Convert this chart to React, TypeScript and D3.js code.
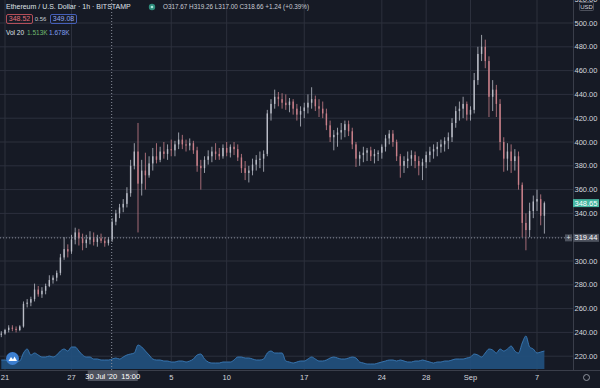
import React from "react";
import * as d3 from "d3";

// ---------- data (8h buckets, first bucket opens 20 Jul 2020 16:00 UTC) ----------
const firstOpen = 238;
const highs = [
  241,
  243, 246, 246, 245, 246, 266, 268, 270, 281, 279, 278, 281, 288, 288, 292,
  306, 320, 314, 322, 328, 327, 323, 322, 325, 324, 322, 323, 320, 320, 336,
  343, 348, 352, 362, 385, 399, 416, 385, 391, 388, 395, 399, 396, 400, 398,
  402, 401, 408, 406, 402, 403, 401, 396, 385, 388, 393, 396, 399, 395, 398,
  400, 398, 400, 398, 390, 384, 380, 386, 389, 392, 393, 427, 436, 444, 442,
  441, 440, 437, 436, 432, 430, 433, 440, 446, 439, 436, 434, 428, 418, 410,
  412, 416, 418, 418, 412, 400, 392, 396, 395, 396, 394, 393, 398, 406, 410,
  410, 402, 390, 388, 392, 393, 392, 388, 386, 392, 396, 398, 400, 402, 404,
  408, 420, 430, 434, 438, 434, 430, 458, 480, 490, 486, 472, 452, 448, 436,
  404, 399, 398, 394, 392, 366, 340, 349, 355, 360, 356, 350,
];
const lows = [
  236,
  238, 240, 241, 240, 241, 244, 261, 262, 266, 270, 269, 272, 278, 281, 283,
  288, 301, 303, 306, 314, 313, 309, 311, 314, 313, 312, 315, 312, 313, 316,
  330, 336, 341, 345, 354, 377, 324, 355, 360, 370, 376, 382, 383, 386, 385,
  388, 388, 394, 394, 392, 393, 390, 375, 360, 374, 381, 383, 385, 385, 386,
  388, 387, 389, 384, 374, 368, 366, 372, 376, 378, 375, 388, 418, 428, 430,
  428, 427, 425, 423, 418, 413, 420, 424, 428, 426, 421, 420, 410, 400, 393,
  396, 402, 404, 405, 394, 379, 380, 383, 384, 384, 382, 384, 386, 392, 398,
  396, 384, 370, 374, 378, 380, 378, 372, 368, 378, 383, 386, 388, 391, 392,
  394, 400, 412, 418, 420, 418, 418, 424, 448, 468, 462, 421, 426, 421, 393,
  375, 376, 374, 376, 360, 320, 309, 320, 336, 342, 330, 323,
];
const closes = [
  239,
  242, 244, 243, 242, 245, 264, 265, 268, 276, 272, 275, 279, 284, 286, 290,
  303, 310, 308, 318, 324, 319, 315, 318, 320, 316, 319, 317, 315, 318, 333,
  340, 345, 348, 357, 380, 392, 365, 376, 372, 382, 388, 385, 392, 390, 394,
  393, 398, 402, 398, 397, 399, 393, 380, 378, 385, 388, 392, 390, 388, 395,
  391, 396, 394, 387, 378, 374, 376, 381, 385, 386, 390, 424, 432, 438, 436,
  433, 431, 434, 428, 423, 426, 429, 433, 436, 430, 428, 424, 414, 404, 406,
  408, 410, 415, 409, 398, 386, 389, 391, 393, 388, 390, 391, 396, 403, 407,
  400, 388, 380, 384, 386, 389, 384, 380, 383, 389, 392, 394, 396, 398, 401,
  404, 416, 426, 428, 432, 423, 427, 452, 474, 480, 468, 438, 444, 432, 400,
  386, 392, 384, 388, 364, 332, 326, 342, 350, 352, 338, 348.65,
];
const volumes = [
  4.5,
  4.5, 4, 3.5, 3.5, 4, 8, 10, 7, 8, 7, 6, 6, 6.5, 6, 7,
  9, 10, 9, 11, 11, 9, 7, 6, 6, 5, 5, 4.5, 4.5, 4.5, 5,
  5.5, 5, 6, 7, 7.5, 8, 12, 11, 9, 7, 5, 4.5, 4.5, 4, 4,
  3.5, 3.5, 4, 4, 3.5, 4, 5, 7, 7.5, 5, 3.5, 3, 3, 3, 3.5,
  3.5, 3.5, 4.5, 6, 6, 5.5, 5.5, 5, 4.5, 4.5, 5, 8, 9, 8, 8,
  8, 4, 3.5, 3, 3.5, 4, 4, 5, 6, 5, 4, 4, 4.5, 5.5, 6,
  5.5, 5, 5, 5.5, 6, 5.5, 3.5, 3, 2.5, 2.5, 2.5, 3, 3.5, 4, 4.5,
  4.5, 4, 4.5, 4, 3.5, 3.5, 4, 4, 4.5, 4, 3.5, 3, 3.5, 3.5, 4,
  4, 4.5, 5, 5, 5, 5.5, 6, 7.5, 7, 6, 8, 10, 9.5, 8, 10,
  9, 10, 11.5, 9, 8, 13, 16.5, 11, 10, 8, 8.5, 9,
];

const priceTicks = [220, 240, 260, 280, 300, 320, 340, 360, 380, 400, 420, 440, 460, 480, 500, 520];
const timeTickDates = [
  Date.UTC(2020, 6, 21), Date.UTC(2020, 6, 27), Date.UTC(2020, 7, 5), Date.UTC(2020, 7, 10),
  Date.UTC(2020, 7, 17), Date.UTC(2020, 7, 24), Date.UTC(2020, 7, 28), Date.UTC(2020, 8, 1),
  Date.UTC(2020, 8, 7),
];
const timeTickLabels = ["21", "27", "5", "10", "17", "24", "28", "Sep", "7"];

const legendTitle = "Ethereum / U.S. Dollar · 1h · BITSTAMP";
const legendOHLC = "O317.67 H319.26 L317.00 C318.66 +1.24 (+0.39%)";
const bidText = "348.52";
const spreadText = "0.56";
const askText = "349.08";
const volName = "Vol 20";
const volValue = "1.513K";
const volMaValue = "1.678K";
const lastPrice = 348.65;
const crossPrice = 319.44;
const crossTime = Date.UTC(2020, 6, 30, 15);
const crossTimeText = "30 Jul '20  15:00";

// ---------- layout ----------
const W = 600;
const H = 388;
const plotRight = 573;
const plotBottom = 370;
const FONT = "'Liberation Sans', Arial, sans-serif";
const BG = "#161a25";
const GRID = "#2c303d";
const TEXT = "#d3d6de";
const UP = "#b9bcc6";
const DOWN = "#c9808a";

const startTime = Date.UTC(2020, 6, 20, 16);
const STEP = 8 * 3600 * 1000;

export default function App() {
  const x = d3.scaleUtc().domain([new Date(Date.UTC(2020, 6, 21)), new Date(Date.UTC(2020, 8, 7))]).range([5, 537]);
  const y = d3.scaleLinear().domain([220, 500]).range([356.2, 23]);
  const yv = d3.scaleLinear().domain([0, 20]).range([369, 329]);

  const candles = closes.map((c, i) => ({
    t: new Date(startTime + i * STEP),
    o: i === 0 ? firstOpen : closes[i - 1],
    h: highs[i],
    l: lows[i],
    c,
    v: volumes[i],
  }));

  const area = d3
    .area<any>()
    .x((d) => x(d.t))
    .y0(yv(0))
    .y1((d) => yv(d.v))
    .curve(d3.curveMonotoneX);
  const topLine = d3
    .line<any>()
    .x((d) => x(d.t))
    .y((d) => yv(d.v))
    .curve(d3.curveMonotoneX);

  const cx = x(new Date(crossTime));
  const cy = y(crossPrice);
  const ly = y(lastPrice);

  return (
    <svg
      width={W}
      height={H}
      style={{ position: "absolute", left: 0, top: 0, display: "block", background: BG }}
      fontFamily={FONT}
    >
      <rect x={0} y={0} width={W} height={H} fill={BG} />
      <defs>
        <clipPath id="plot">
          <rect x={0} y={0} width={plotRight} height={plotBottom} />
        </clipPath>
      </defs>

      {/* grid */}
      {priceTicks.map((p) => (
        <line key={"h" + p} x1={0} x2={plotRight} y1={y(p)} y2={y(p)} stroke={GRID} strokeWidth={1} />
      ))}
      {timeTickDates.map((d, i) => (
        <line key={"v" + i} x1={x(new Date(d))} x2={x(new Date(d))} y1={0} y2={plotBottom} stroke={GRID} strokeWidth={1} />
      ))}

      {/* volume */}
      <g clipPath="url(#plot)">
        <path d={area(candles) || ""} fill="#22507e" fillOpacity={0.92} />
        <path d={topLine(candles) || ""} fill="none" stroke="#3a7bb8" strokeWidth={0.9} />
      </g>

      {/* candles */}
      <g clipPath="url(#plot)">
        {candles.map((d, i) => {
          const col = d.c >= d.o ? UP : DOWN;
          const xx = x(d.t);
          const top = y(Math.max(d.o, d.c));
          const bot = y(Math.min(d.o, d.c));
          return (
            <g key={i}>
              <line x1={xx} x2={xx} y1={y(d.h)} y2={y(d.l)} stroke={col} strokeWidth={0.8} />
              <rect x={xx - 0.7} y={top} width={1.4} height={Math.max(0.8, bot - top)} fill={col} />
            </g>
          );
        })}
      </g>

      {/* crosshair */}
      <line x1={cx} x2={cx} y1={0} y2={plotBottom} stroke="#8a8f9c" strokeWidth={1} strokeDasharray="1,2" />
      <line x1={0} x2={plotRight} y1={cy} y2={cy} stroke="#8a8f9c" strokeWidth={1} strokeDasharray="1,2" />

      {/* axis separators */}
      <line x1={plotRight + 0.5} x2={plotRight + 0.5} y1={0} y2={plotBottom} stroke="#3a3e4a" />
      <line x1={0} x2={W} y1={plotBottom + 0.5} y2={plotBottom + 0.5} stroke="#3a3e4a" />

      {/* price axis labels */}
      {priceTicks.map((p) => (
        <text key={"pl" + p} x={586} y={y(p)} dy="0.35em" textAnchor="middle" fontSize={7.5} fill={TEXT}>
          {p.toFixed(2)}
        </text>
      ))}
      <rect x={579.5} y={2.5} width={14} height={8} fill={BG} stroke="#5a5e6a" strokeWidth={0.8} rx={1} />
      <text x={586.5} y={6.7} dy="0.35em" textAnchor="middle" fontSize={6} fill={TEXT}>
        USD
      </text>

      {/* last price label */}
      <rect x={plotRight} y={ly - 4} width={26} height={8} fill="#43b5a0" />
      <text x={586} y={ly} dy="0.35em" textAnchor="middle" fontSize={7.5} fill="#ffffff">
        {lastPrice.toFixed(2)}
      </text>

      {/* crosshair price label */}
      <rect x={565} y={cy - 3.5} width={7} height={7} fill="#4d525e" />
      <text x={568.5} y={cy} dy="0.35em" textAnchor="middle" fontSize={7} fill="#e0e2e8">+</text>
      <rect x={plotRight} y={cy - 4} width={26} height={8} fill="#4d525e" />
      <text x={586} y={cy} dy="0.35em" textAnchor="middle" fontSize={7.5} fill="#ffffff">
        {crossPrice.toFixed(2)}
      </text>

      {/* time axis labels */}
      {timeTickDates.map((d, i) => (
        <text key={"tl" + i} x={x(new Date(d))} y={377} dy="0.35em" textAnchor="middle" fontSize={7.5} fill={TEXT}>
          {timeTickLabels[i]}
        </text>
      ))}
      <rect x={cx - 24} y={plotBottom} width={50} height={11} fill="#4d525e" />
      <text x={cx + 1} y={376} dy="0.35em" textAnchor="middle" fontSize={7.5} fill="#ffffff" xmlSpace="preserve">
        {crossTimeText}
      </text>
      <circle cx={586.5} cy={377.5} r={3} fill="none" stroke="#9a9ea8" strokeWidth={0.9} />

      {/* logo */}
      <circle cx={12.5} cy={358.5} r={6.5} fill="#3d7fd0" />
      <path d="M8.5,361 L11,357 L13,359.5 L14.5,356.5 L17,361 Z" fill="#ffffff" />

      {/* legend */}
      <text x={6} y={7} dy="0.35em" fontSize={7} fill="#dfe1e7">
        {legendTitle}
      </text>
      <circle cx={152} cy={7} r={3.2} fill="#2e8c7c" />
      <circle cx={152} cy={7} r={1.3} fill="#a7e6d8" />
      <text x={163} y={7} dy="0.35em" fontSize={7} fill="#c9ccd4" textLength={146} lengthAdjust="spacingAndGlyphs">
        {legendOHLC}
      </text>

      <rect x={6.5} y={14.5} width={26} height={9} fill="none" stroke="#c4545f" strokeWidth={0.9} rx={1.5} />
      <text x={19.5} y={19} dy="0.35em" textAnchor="middle" fontSize={7} fill="#e46f79">
        {bidText}
      </text>
      <text x={40.5} y={19} dy="0.35em" textAnchor="middle" fontSize={6} fill="#c9ccd4">
        {spreadText}
      </text>
      <rect x={50.5} y={14.5} width={26} height={9} fill="none" stroke="#4a66c8" strokeWidth={0.9} rx={1.5} />
      <text x={63.5} y={19} dy="0.35em" textAnchor="middle" fontSize={7} fill="#8fa6f2">
        {askText}
      </text>

      <text x={6} y={33} dy="0.35em" fontSize={6.5} fill="#dfe1e7">
        {volName}
      </text>
      <text x={27} y={33} dy="0.35em" fontSize={6.5} fill="#6fb96f">
        {volValue}
      </text>
      <text x={49} y={33} dy="0.35em" fontSize={6.5} fill="#7f9ff0">
        {volMaValue}
      </text>
    </svg>
  );
}
